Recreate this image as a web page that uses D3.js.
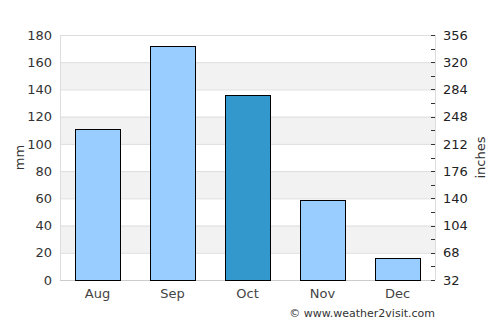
<!DOCTYPE html>
<html>
<head>
<meta charset="utf-8">
<script src="https://cdn.jsdelivr.net/npm/d3@7"></script>
<style>
  body { margin: 0; background: #fff; }
  text { font-family: "DejaVu Sans", sans-serif; }
</style>
</head>
<body>
<svg id="chart"></svg>
<script>
const months = ["Aug", "Sep", "Oct", "Nov", "Dec"]
const rainfall = [111, 172, 136, 59, 16]
const highlight = "Oct"
const leftTicks = [0, 20, 40, 60, 80, 100, 120, 140, 160, 180]
const rightTicks = [32, 68, 104, 140, 176, 212, 248, 284, 320, 356]

const width = 500
const height = 325
const margin = { top: 35, right: 65, bottom: 45, left: 60 }

const svg = d3.select('#chart')
    .attr("width", width)
    .attr("height", height)

const x = d3.scaleBand()
    .domain(months)
    .range([margin.left, width - margin.right])
    .paddingInner(0.4)
    .paddingOuter(0.2)

const y = d3.scaleLinear()
    .domain([0, 180])
    .range([height - margin.bottom, margin.top])

const y2 = d3.scaleLinear()
    .domain([32, 356])
    .range([height - margin.bottom, margin.top])

// grijze banden
const bands = d3.range(20, 180, 40)
svg.selectAll('.band')
    .data(bands)
    .enter()
    .append('rect')
    .attr('x', margin.left)
    .attr('width', width - margin.right - margin.left)
    .attr('y', d => y(d + 20))
    .attr('height', d => y(d) - y(d + 20))
    .attr('fill', '#f2f2f2')

// rasterlijnen
svg.selectAll('.grid')
    .data(leftTicks.slice(1))
    .enter()
    .append('line')
    .attr('x1', margin.left)
    .attr('x2', width - margin.right)
    .attr('y1', d => y(d) + 0.5)
    .attr('y2', d => y(d) + 0.5)
    .attr('stroke', '#dddddd')

// kaderlijnen
svg.append('line')
    .attr('x1', margin.left + 0.5).attr('x2', margin.left + 0.5)
    .attr('y1', margin.top).attr('y2', height - margin.bottom)
    .attr('stroke', '#dddddd')
svg.append('line')
    .attr('x1', width - margin.right + 0.5).attr('x2', width - margin.right + 0.5)
    .attr('y1', margin.top).attr('y2', height - margin.bottom)
    .attr('stroke', '#dddddd')
svg.append('line')
    .attr('x1', margin.left).attr('x2', width - margin.right)
    .attr('y1', height - margin.bottom + 0.5).attr('y2', height - margin.bottom + 0.5)
    .attr('stroke', '#cccccc')

// staven
svg.selectAll('.bar')
    .data(months)
    .enter()
    .append('rect')
    .attr('x', d => Math.round(x(d)) + 0.5)
    .attr('width', Math.round(x.bandwidth()))
    .attr('y', (d, i) => Math.round(y(rainfall[i])) + 0.5)
    .attr('height', (d, i) => Math.round(y(0)) - Math.round(y(rainfall[i])))
    .attr('fill', d => d === highlight ? '#3399cc' : '#99ccff')
    .attr('stroke', '#000')
    .attr('stroke-width', 1)

// linker as
const leftAxis = svg.append('g')
    .attr('transform', `translate(${margin.left - 8},0)`)
    .call(d3.axisLeft(y).tickValues(leftTicks).tickSize(0).tickPadding(0))
leftAxis.select('.domain').remove()
leftAxis.selectAll('text')
    .attr('font-size', 13)
    .attr('fill', '#333')
    .attr('font-family', '"DejaVu Sans", sans-serif')

// rechter as
const minorTicks = d3.range(50, 356, 36)
svg.selectAll('.minor')
    .data(rightTicks.concat(minorTicks))
    .enter()
    .append('line')
    .attr('x1', width - margin.right - 4)
    .attr('x2', width - margin.right)
    .attr('y1', d => Math.round(y2(d)) + 0.5)
    .attr('y2', d => Math.round(y2(d)) + 0.5)
    .attr('stroke', '#333')

const rightAxis = svg.append('g')
    .attr('transform', `translate(${width - margin.right + 8},0)`)
    .call(d3.axisRight(y2).tickValues(rightTicks).tickSize(0).tickPadding(0))
rightAxis.select('.domain').remove()
rightAxis.selectAll('text')
    .attr('font-size', 13)
    .attr('fill', '#222')
    .attr('font-family', '"DejaVu Sans", sans-serif')

// x as
const bottomAxis = svg.append('g')
    .attr('transform', `translate(0,${height - margin.bottom + 9})`)
    .call(d3.axisBottom(x).tickSize(0).tickPadding(0))
bottomAxis.select('.domain').remove()
bottomAxis.selectAll('text')
    .attr('font-size', 13)
    .attr('fill', '#444')
    .attr('font-family', '"DejaVu Sans", sans-serif')

// as titels
svg.append('text')
    .attr('transform', `translate(24,${(margin.top + height - margin.bottom) / 2}) rotate(-90)`)
    .attr('text-anchor', 'middle')
    .attr('font-size', 13)
    .attr('fill', '#333')
    .text('mm')

svg.append('text')
    .attr('transform', `translate(485,${(margin.top + height - margin.bottom) / 2}) rotate(-90)`)
    .attr('text-anchor', 'middle')
    .attr('font-size', 13)
    .attr('fill', '#333')
    .text('inches')

svg.append('text')
    .attr('x', width - margin.right)
    .attr('y', 317)
    .attr('text-anchor', 'end')
    .attr('font-size', 11)
    .attr('fill', '#333')
    .text('© www.weather2visit.com')
</script>
</body>
</html>
